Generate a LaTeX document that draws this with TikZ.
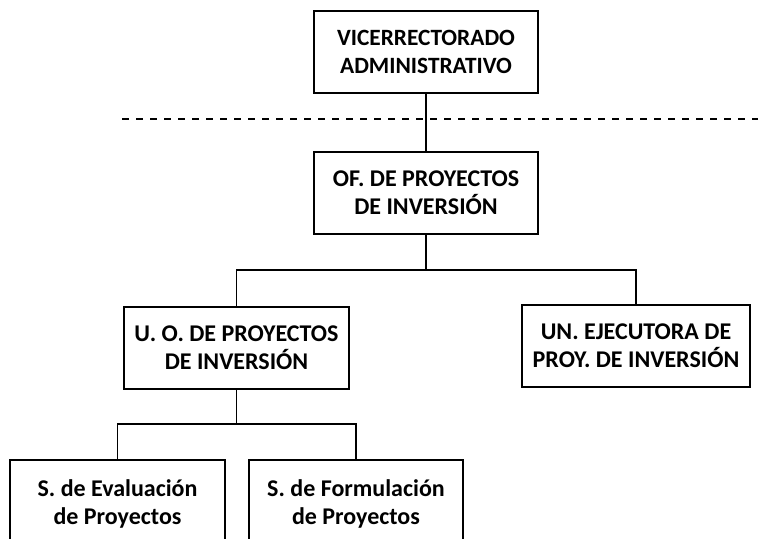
\documentclass[tikz,border=0pt]{standalone}
\usepackage{fontspec}
\setmainfont{Carlito}
\usepackage{tikz}

\begin{document}
\begin{tikzpicture}[x=0.75pt,y=0.75pt,
		caja/.style={draw,line width=1.5pt,align=center,inner sep=0pt,
			font=\fontsize{18}{21}\selectfont\bfseries,minimum height=61.5pt},
		linea/.style={line width=1.2pt}]
		\useasboundingbox (0,0) rectangle (758,539);
		\node[caja,minimum width=168pt,font=\fontsize{17.5}{21}\selectfont\bfseries] (VR) at (426,487) {VICERRECTORADO\\ADMINISTRATIVO};
		\node[caja,minimum width=168pt] (OPI) at (426,346) {OF. DE PROYECTOS\\DE INVERSIÓN};
		\node[caja,minimum width=169pt] (UOP) at (236.5,191) {U. O. DE PROYECTOS\\DE INVERSIÓN};
		\node[caja,minimum width=171pt] (UEP) at (636,193) {UN. EJECUTORA DE\\PROY. DE INVERSIÓN};
		\node[caja,minimum width=161pt,minimum height=66pt] (SEP) at (117.5,35) {S. de Evaluación\\de Proyectos};
		\node[caja,minimum width=161pt,minimum height=66pt] (SFP) at (356,35) {S. de Formulación\\de Proyectos};
		%
		\coordinate (DL) at (122,420);
		\coordinate (DR) at (758,420);
		\coordinate (B1) at (426,269);
		\coordinate (B2) at (236.5,115);
		%
		\draw[line width=1.5pt,dash pattern=on 5.5pt off 5pt] (DL) -- (DR);
		\draw[linea] (VR) -- (OPI);
		\draw[linea] (OPI) -- (B1);
		\draw[linea] (UOP.north) |- (B1) -| (UEP.north);
		\draw[linea] (UOP) -- (B2);
		\draw[linea] (SEP.north) |- (B2) -| (SFP.north);
\end{tikzpicture}
\end{document}
